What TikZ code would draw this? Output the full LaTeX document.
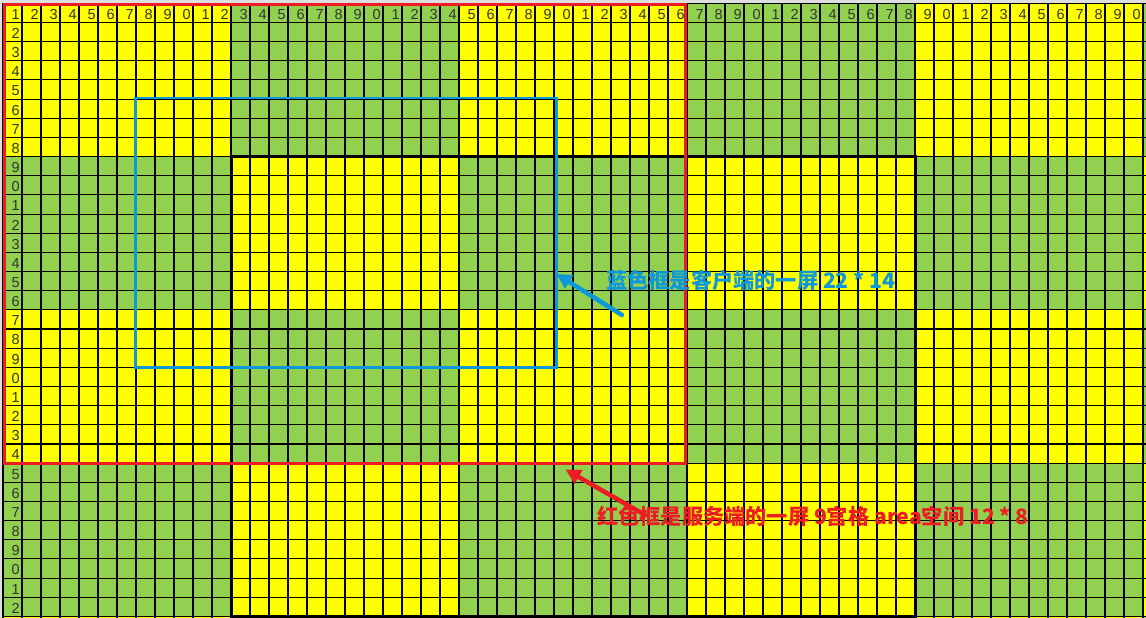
\documentclass[tikz,border=0pt]{standalone}
\usepackage{fontspec}
\setmainfont{Liberation Sans}
\newfontfamily\cjk{Noto Sans CJK SC}
\usetikzlibrary{arrows.meta}
\definecolor{cellyellow}{RGB}{255,255,0}
\definecolor{cellgreen}{RGB}{146,208,80}
\definecolor{frred}{RGB}{235,28,36}
\definecolor{frblue}{RGB}{12,152,218}
\definecolor{hdrgray}{RGB}{222,222,222}
\tikzset{
  gridline/.style={line width=1.1pt, black},
  numlabel/.style={anchor=base east, inner sep=0pt, font=\fontsize{14.5}{14.5}\selectfont, text=black!80},
  areaborder/.style={line width=3pt, black},
  redframe/.style={line width=2.4pt, frred},
  blueframe/.style={line width=2.6pt, frblue},
  bluetext/.style={anchor=west, inner sep=0pt, text=frblue, font=\cjk\bfseries\fontsize{21.2}{21.2}\selectfont},
  redtext/.style={anchor=west, inner sep=0pt, text=frred, font=\cjk\bfseries\fontsize{21.2}{21.2}\selectfont},
  bluearrow/.style={line width=4.5pt, frblue, line cap=round, -{Triangle[length=15pt,width=15pt]}},
  redarrow/.style={line width=4.5pt, frred, line cap=round, -{Triangle[length=15pt,width=15pt]}}
}
\begin{document}
\begin{tikzpicture}[x=1pt,y=-1pt]
\useasboundingbox (0,0) rectangle (1146,618);
\begin{scope}
\clip (0,0) rectangle (1146,618);
\def\cw{19}\def\rh{19.16}\def\xo{3}\def\yo{3.3}
% checker blocks of 12 x 8 cells
\foreach \i in {0,...,5}{
  \foreach \j in {0,...,4}{
    \pgfmathtruncatemacro\pty{mod(\i+\j,2)}
    \ifnum\pty=0 \def\cc{cellyellow}\else\def\cc{cellgreen}\fi
    \fill[\cc] (\xo+12*\cw*\i, \yo+8*\rh*\j) rectangle ++(12*\cw, 8*\rh);
  }
}
% header strips
\fill[hdrgray] (0,0) rectangle (1146,\yo);
\fill[hdrgray] (0,0) rectangle (\xo,618);
% grid lines
\foreach \k in {0,...,60}{
  \draw[gridline] (\xo+\k*\cw, \yo) -- (\xo+\k*\cw, 618);
}
\foreach \k in {0,...,32}{
  \draw[gridline] (\xo, \yo+\k*\rh) -- (1146, \yo+\k*\rh);
}
% column numbers
\foreach \c in {1,...,60}{
  \pgfmathtruncatemacro\d{mod(\c,10)}
  \node[numlabel] (col\c) at (\xo+\c*\cw-2, \yo+\rh-3.2) {\d};
}
% row numbers
\foreach \r in {2,...,32}{
  \pgfmathtruncatemacro\d{mod(\r,10)}
  \node[numlabel] (row\r) at (\xo+\cw-2, \yo+\r*\rh-3.2) {\d};
}
% nine-grid area border
\draw[areaborder] (\xo+12*\cw, \yo+8*\rh) rectangle (\xo+48*\cw, \yo+32*\rh);
% red frame (server screen)
\draw[redframe] (4.6, 4.6) rectangle (685.6, 463.6);
% blue frame (client screen)
\draw[blueframe] (135.3, 98) rectangle (556.2, 367.4);
\end{scope}
% annotations
\coordinate (bluetail) at (622,315);
\coordinate (bluetip) at (556.5,274);
\draw[bluearrow] (bluetail) -- (bluetip);
\node[bluetext] (bluelabel) at (606,280) {蓝色框是客户端的一屏 22 * 14};
\coordinate (redtail) at (645,515);
\coordinate (redtip) at (565.5,469.5);
\draw[redarrow] (redtail) -- (redtip);
\node[redtext] (redlabel) at (597,516) {红色框是服务端的一屏 9宫格 area空间 12 * 8};
\end{tikzpicture}
\end{document}
